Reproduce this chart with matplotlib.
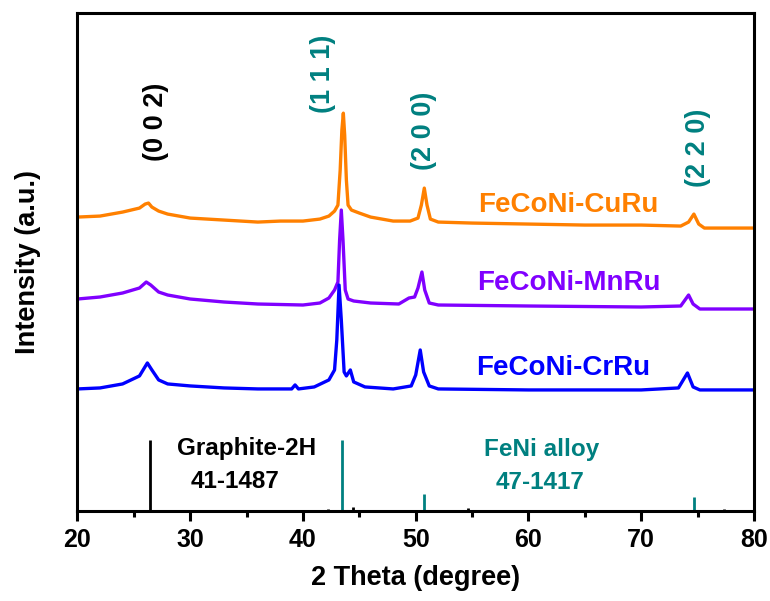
import matplotlib
matplotlib.use("Agg")
import matplotlib.pyplot as plt
from matplotlib.ticker import MultipleLocator

plt.rcParams['font.family'] = ['Liberation Sans', 'DejaVu Sans']
plt.rcParams['font.weight'] = 'bold'

# Diffraction patterns (stacked, arbitrary units)
two_theta_curu = [20, 22, 24, 25.5, 26.0, 26.3, 26.6, 27.2, 28, 30, 33, 36, 38, 40, 41.5, 42.3,
                  42.8, 43.1, 43.3, 43.45, 43.58, 43.7, 43.85, 44.0, 44.3, 45, 46, 48, 49.5,
                  50.2, 50.5, 50.76, 51.0, 51.3, 52, 55, 60, 65, 70, 73.5, 74.2, 74.67, 75.1,
                  75.6, 80]
int_curu = [294, 295, 299, 303, 307, 308, 304, 300, 297, 293, 291, 289, 290, 290, 292, 295,
            300, 306, 341, 381, 398, 376, 331, 306, 301, 298, 294, 290, 290,
            293, 306, 323, 306, 292, 289, 288, 287, 286, 286, 285, 289, 297, 287,
            283, 283]

two_theta_mnru = [20, 22, 24, 25.5, 26.1, 26.5, 27.2, 28, 30, 33, 36, 40, 41.5, 42.3, 42.8,
                  43.1, 43.25, 43.4, 43.55, 43.75, 44.0, 44.5, 46, 48.5, 49.4, 49.9, 50.2,
                  50.55, 50.8, 51.2, 52, 60, 70, 73.5, 74.2, 74.6, 75.2, 80]
int_mnru = [212, 214, 218, 223, 229, 226, 219, 216, 212, 209, 207, 206, 208, 213, 221,
            229, 271, 301, 271, 221, 212, 210, 208, 207, 213, 214, 223,
            239, 221, 208, 206, 205, 204, 205, 216, 207, 202, 202]

two_theta_crru = [20, 22, 24, 25.5, 26.2, 26.6, 27.2, 28, 30, 33, 36, 39.0, 39.3, 39.6, 41,
                  42.3, 42.8, 43.0, 43.2, 43.4, 43.65, 43.85, 44.2, 44.5, 45.5, 48, 49.6,
                  50.0, 50.4, 50.7, 51.2, 52, 60, 70, 73.3, 74.1, 74.6, 75.2, 80]
int_crru = [122, 123, 127, 135, 148, 141, 131, 127, 125, 123, 122, 122, 126, 122, 124,
            131, 141, 171, 226, 191, 139, 135, 141, 129, 124, 122, 125,
            136, 161, 139, 125, 122, 121, 121, 123, 138, 124, 121, 121]

# Standard reference lines
graphite_pos = [26.4, 42.2, 44.4, 54.6, 77.3]
graphite_int = [71, 2, 4, 3, 2]
feni_pos = [43.5, 50.7, 74.7]
feni_int = [71, 17, 14]

orange = '#FF8000'
purple = '#8000FF'
blue = '#0000FF'
teal = '#008080'

fig = plt.figure(figsize=(7.70, 6.01), dpi=100)
ax = fig.add_axes([0.1006, 0.150, 0.8786, 0.828])

lw = 2.4
ax.plot(two_theta_curu, int_curu, color=orange, lw=lw)
ax.plot(two_theta_mnru, int_mnru, color=purple, lw=lw)
ax.plot(two_theta_crru, int_crru, color=blue, lw=lw)

ax.vlines(graphite_pos, 0, graphite_int, color='black', lw=2)
ax.vlines(feni_pos, 0, feni_int, color=teal, lw=2)

ax.set_xlim(20, 80)
ax.set_ylim(0, 498)

fs_lbl = 20
ax.text(63.5, 306, 'FeCoNi-CuRu', color=orange, fontsize=fs_lbl, fontweight='bold',
        ha='center', va='center')
ax.text(63.6, 228, 'FeCoNi-MnRu', color=purple, fontsize=fs_lbl, fontweight='bold',
        ha='center', va='center')
ax.text(63.1, 143, 'FeCoNi-CrRu', color=blue, fontsize=fs_lbl, fontweight='bold',
        ha='center', va='center')

fs_hkl = 19.5
ax.text(27.0, 389, '(0 0 2)', color='black', rotation=90, fontsize=fs_hkl,
        fontweight='bold', ha='center', va='center')
ax.text(41.8, 437, '(1 1 1)', color=teal, rotation=90, fontsize=fs_hkl,
        fontweight='bold', ha='center', va='center')
ax.text(50.7, 380, '(2 0 0)', color=teal, rotation=90, fontsize=fs_hkl,
        fontweight='bold', ha='center', va='center')
ax.text(75.0, 363, '(2 2 0)', color=teal, rotation=90, fontsize=fs_hkl,
        fontweight='bold', ha='center', va='center')

fs_ref = 17.5
ax.text(35.0, 62, 'Graphite-2H', color='black', fontsize=fs_ref, fontweight='bold',
        ha='center', va='center')
ax.text(34.0, 29, '41-1487', color='black', fontsize=fs_ref, fontweight='bold',
        ha='center', va='center')
ax.text(61.2, 61, 'FeNi alloy', color=teal, fontsize=fs_ref, fontweight='bold',
        ha='center', va='center')
ax.text(61.0, 28, '47-1417', color=teal, fontsize=fs_ref, fontweight='bold',
        ha='center', va='center')

for s in ax.spines.values():
    s.set_linewidth(2.2)

ax.xaxis.set_major_locator(MultipleLocator(10))
ax.xaxis.set_minor_locator(MultipleLocator(5))
ax.tick_params(axis='x', which='major', direction='out', length=7, width=2.2,
               labelsize=18, pad=5)
ax.tick_params(axis='x', which='minor', direction='out', length=4, width=2.2)
ax.set_yticks([])
for t in ax.get_xticklabels():
    t.set_fontweight('bold')

ax.set_xlabel('2 Theta (degree)', fontsize=19.5, fontweight='bold', labelpad=10)
ax.set_ylabel('Intensity (a.u.)', fontsize=19.5, fontweight='bold', labelpad=26)

fig.savefig('out.png', dpi=100)
